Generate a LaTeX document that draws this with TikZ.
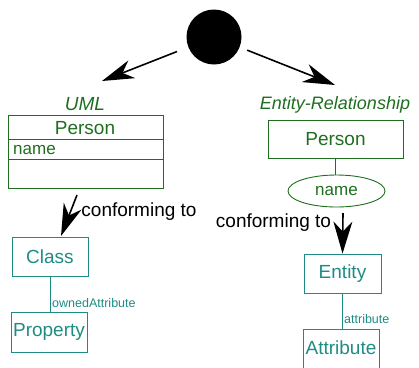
\documentclass[tikz,border=0pt]{standalone}
\usepackage{fontspec}
\setmainfont{Liberation Sans}
\usetikzlibrary{arrows.meta,shapes.geometric}
\definecolor{dgreen}{HTML}{1F6E1F}
\definecolor{teal2}{HTML}{1E8C84}
\tikzset{
  arr/.style={line width=1.6pt, -{Stealth[length=32pt,width=19pt,inset=10pt]}},
  gbox/.style={draw=dgreen, line width=0.9pt, text=dgreen, inner sep=0pt, font=\fontsize{19}{19}\selectfont},
  tbox/.style={draw=teal2, line width=0.9pt, text=teal2, inner sep=0pt, font=\fontsize{19}{19}\selectfont},
  big/.style={font=\fontsize{19}{19}\selectfont},
  small/.style={text=teal2, inner sep=0pt, font=\fontsize{12.5}{12.5}\selectfont},
}
\begin{document}
\begin{tikzpicture}[x=1pt,y=-1pt]
\useasboundingbox (0,0) rectangle (419,367);
\clip (0,0) rectangle (419,367);
% start circle
\node[circle, fill=black, minimum size=55pt, inner sep=0pt] (start) at (214,37) {};
\coordinate (tipL) at (102,81);
\coordinate (tipR) at (335,85);
\draw[arr, shorten <=12pt] (start) -- (tipL);
\draw[arr, shorten <=8pt] (start) -- (tipR);
% UML side
\node[text=dgreen, inner sep=0pt, font=\fontsize{19}{19}\selectfont\itshape] (umllab) at (85,104) {UML};
\node[draw=dgreen, line width=0.9pt, minimum width=155pt, minimum height=73pt, inner sep=0pt] (umlbox) at (85.5,151.5) {};
\node[text=dgreen, inner sep=0pt, font=\fontsize{19}{19}\selectfont] (umlperson) at (85,128) {Person};
\draw[dgreen, line width=1.2pt] (umlbox.west |- 0,139.5) coordinate (d1a) -- (umlbox.east |- d1a);
\draw[dgreen, line width=1.2pt] (umlbox.west |- 0,159.5) coordinate (d2a) -- (umlbox.east |- d2a);
\node[text=dgreen, inner sep=0pt, anchor=west, font=\fontsize{17}{17}\selectfont] (umlname) at (13,150) {name};
% ER side
\node[text=dgreen, inner sep=0pt, font=\fontsize{18}{18}\selectfont\itshape] (erlab) at (335,105) {Entity-Relationship};
\node[gbox, minimum width=135pt, minimum height=38pt] (erperson) at (335.5,139) {Person};
\node[ellipse, draw=dgreen, line width=0.9pt, text=dgreen, minimum width=97pt, minimum height=32pt, inner sep=0pt, font=\fontsize{17}{17}\selectfont] (ername) at (336.5,191) {name};
\draw[dgreen, line width=0.9pt] (erperson.south) -- (erperson.south |- ername.north);
% metamodel UML
\node[tbox, minimum width=76pt, minimum height=39pt] (class) at (50,256.5) {Class};
\node[tbox, minimum width=76pt, minimum height=40pt] (property) at (49,332) {Property};
\draw[teal2, line width=0.9pt] (class.south) -- (class.south |- property.north);
\node[small, anchor=west] (owned) at (52,303) {ownedAttribute};
\coordinate (c1s) at (77,195);
\coordinate (c1e) at (61,236);
\draw[arr] (c1s) -- (c1e);
\node[big] (conf1) at (139,212) {conforming to};
% metamodel ER
\node[tbox, minimum width=77pt, minimum height=39pt] (entity) at (342.5,273.5) {Entity};
\node[tbox, minimum width=76pt, minimum height=40pt, anchor=north] (attribute) at (341,329) {};
\node[text=teal2, inner sep=0pt, font=\fontsize{19}{19}\selectfont] (attrtext) at (341,348) {Attribute};
\draw[teal2, line width=0.9pt] (entity.south) -- (entity.south |- attribute.north);
\node[small, anchor=west] (attrlab) at (344,319) {attribute};
\coordinate (c2s) at (343,213);
\draw[arr] (c2s) -- (entity.north);
\node[big] (conf2) at (273.5,223) {conforming to};
\end{tikzpicture}
\end{document}
